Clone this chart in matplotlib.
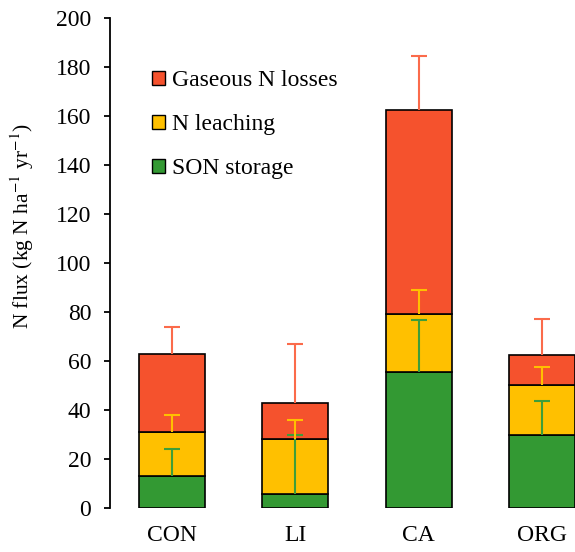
import numpy as np
import matplotlib
matplotlib.use("Agg")
import matplotlib.pyplot as plt
from matplotlib.patches import Patch

plt.rcParams['font.family'] = ['Liberation Serif', 'DejaVu Serif']
plt.rcParams['mathtext.fontset'] = 'stix'

# data (kg N ha-1 yr-1)
categories = ['CON', 'LI', 'CA', 'ORG']
son_storage = [13.2, 5.7, 55.4, 29.9]
n_leaching = [17.8, 22.5, 23.8, 20.4]
gaseous_losses = [31.8, 14.8, 83.2, 12.1]
son_err = [11.0, 24.3, 21.3, 13.8]
leach_err = [7.0, 7.6, 9.8, 7.4]
gas_err = [11.0, 24.0, 22.1, 14.6]

colors = {'gas': '#F5522D', 'leach': '#FFC000', 'son': '#339933'}
err_colors = {'gas': '#FB6B4B', 'leach': '#FFC000', 'son': '#3E9E3A'}

fig = plt.figure(figsize=(5.75, 5.52), dpi=100)
# axes extend past the right edge, as in the cropped reference
ax = fig.add_axes([110 / 575, 1 - 508 / 552, 494 / 575, 490 / 552])

x = np.arange(len(categories))
w = 0.535
son = np.array(son_storage)
leach = np.array(n_leaching)
gas = np.array(gaseous_losses)

ax.bar(x, son, w, color=colors['son'], edgecolor='black', linewidth=1.2, zorder=2)
ax.bar(x, leach, w, bottom=son, color=colors['leach'], edgecolor='black', linewidth=1.2, zorder=2)
ax.bar(x, gas, w, bottom=son + leach, color=colors['gas'], edgecolor='black', linewidth=1.2, zorder=2)

# upper error bars only
tops = [(son, son_err, 'son'), (son + leach, leach_err, 'leach'), (son + leach + gas, gas_err, 'gas')]
for y, e, key in tops:
    eb = ax.errorbar(x, y, yerr=[np.zeros(len(x)), e], fmt='none', ecolor=err_colors[key],
                     elinewidth=1.5, capsize=6, capthick=1.5, zorder=3)
    eb[1][0].set_visible(False)

ax.set_xlim(-0.5, 3.5)
ax.set_ylim(0, 200)
ax.set_yticks(np.arange(0, 201, 20))
ax.set_xticks(x)
ax.set_xticklabels(categories)
ax.tick_params(axis='y', direction='out', length=4.5, width=1.3, labelsize=17, pad=9)
ax.tick_params(axis='x', length=0, labelsize=17, pad=12)
for s in ['top', 'right', 'bottom']:
    ax.spines[s].set_visible(False)
ax.spines['left'].set_linewidth(1.3)
ax.set_ylabel('N flux (kg N ha$^{-1}$ yr$^{-1}$)', fontsize=15.5)
ax.yaxis.set_label_coords(-0.15, 0.575)

handles = [Patch(facecolor=colors['gas'], edgecolor='black', label='Gaseous N losses'),
           Patch(facecolor=colors['leach'], edgecolor='black', label='N leaching'),
           Patch(facecolor=colors['son'], edgecolor='black', label='SON storage')]
ax.legend(handles=handles, loc='upper left', bbox_to_anchor=(0.065, 0.913), frameon=False,
          fontsize=17, handlelength=0.55, handleheight=0.55, handletextpad=0.3,
          labelspacing=0.98, borderaxespad=0)

fig.savefig('out.png', dpi=100)
